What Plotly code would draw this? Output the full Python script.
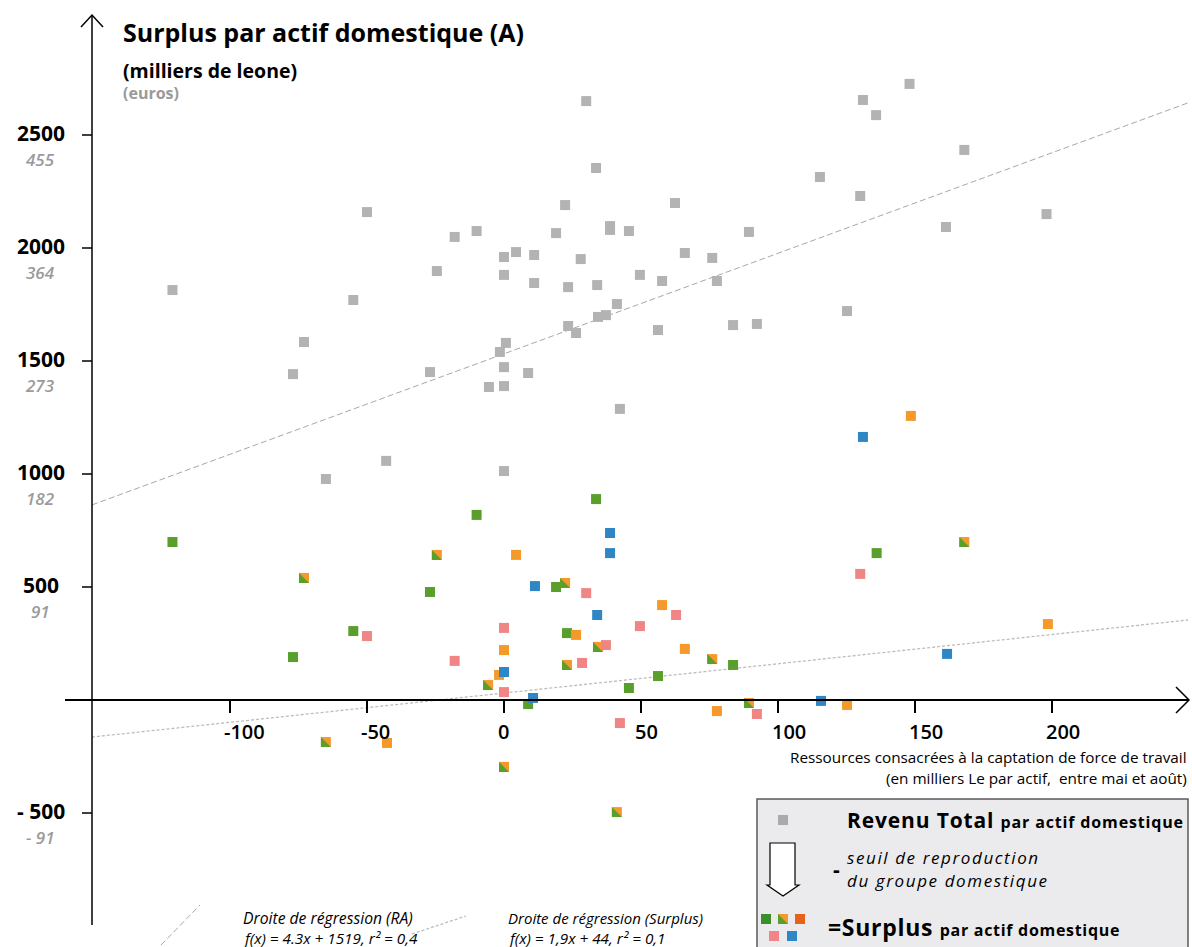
import plotly.graph_objects as go

W, H = 1192, 947
FONT = "Open Sans"

# ---------------- data ----------------
# Revenu Total par actif domestique (milliers de leone) vs ressources (milliers Le)
grey_x = [-121, -73, -77, -55, -50, -65, -43, -27, -24.5, -18, -10, -5.5, 0, 0, -1.5, 0.7,
          0, 0, 0, 4.4, 11, 11, 8.8, 19, 22.3, 23.4, 23.4, 26.3, 28, 30, 33.6, 34, 34.3,
          37.2, 38.7, 38.7, 41.2, 42.3, 45.6, 49.6, 56.2, 57.7, 62.4, 66, 76, 77.7, 83.6,
          89.4, 92.3, 115.3, 125.2, 130, 131, 135.8, 148, 161.3, 168, 198]
grey_y = [1814, 1584, 1442, 1770, 2159, 978, 1058, 1451, 1898, 2049, 2075, 1385, 1960, 1881,
          1540, 1580, 1473, 1389, 1013, 1982, 1969, 1845, 1447, 2066, 2190, 1827, 1655, 1624,
          1951, 2650, 2354, 1836, 1695, 1703, 2097, 2080, 1752, 1288, 2075, 1881, 1637, 1854,
          2199, 1978, 1956, 1854, 1659, 2071, 1664, 2314, 1721, 2230, 2655, 2588, 2726, 2093,
          2434, 2150]

# Surplus par actif domestique, by colour group
green_x = [-121, -77, -55, -27, -10, 8.8, 19, 23, 33.6, 45.6, 56.2, 83.6, 136]
green_y = [699, 190, 305, 478, 819, -18, 500, 296, 889, 53, 106, 155, 650]
orange_x = [-42.7, -1.8, 0, 4.4, 26.3, 57.7, 66, 77.7, 125.2, 148.5, 198.5]
orange_y = [-190, 111, 221, 642, 288, 420, 226, -49, -22, 1257, 336]
split_x = [-73, -65, -24.5, -5.8, 0, 22.3, 23, 34.3, 41.2, 76, 89.4, 168]
split_y = [540, -186, 642, 66, -296, 518, 155, 235, -496, 181, -13, 699]
pink_x = [-50, -18, 0, 0, 30, 28.5, 37.2, 42.3, 49.6, 62.8, 92.3, 130]
pink_y = [283, 173, 319, 35, 473, 164, 243, -102, 327, 376, -62, 558]
blue_x = [0, 11.3, 10.6, 38.7, 38.7, 34, 115.7, 131, 161.7]
blue_y = [124, 504, 9, 739, 650, 376, -4, 1164, 204]

# regression lines as drawn (end points)
reg_ra_x = [-150.4, 249.6]
reg_ra_y = [863, 2642]
reg_sp_x = [-150.4, 249.6]
reg_sp_y = [-164, 354]

x_ticks = [-100, -50, 0, 50, 100, 150, 200]
x_tick_text = ["-100", "-50", "0", "50", "100", "150", "200"]
y_ticks = [2500, 2000, 1500, 1000, 500, -500]
y_tick_text = ["2500", "2000", "1500", "1000", "500", "- 500"]
y_tick_euro = ["455", "364", "273", "182", "91", "- 91"]

# ---------------- styling / layout constants ----------------
GREY = "#b3b3b3"
GREEN = "#5a9f2c"
ORANGE = "#f59a2a"
REDOR = "#e9621a"
PINK = "#ef8585"
BLUE = "#2e86c4"
MS = 10

X0PX, XSCALE = 504.0, 2.74   # pixel of x=0, pixels per unit
Y0PX, YSCALE = 700.0, 0.226  # pixel of y=0, pixels per unit


def fx(p):
    return p / W


def fy(p):
    return 1 - p / H


xr = [(0 - X0PX) / XSCALE, (W - X0PX) / XSCALE]
yr = [(Y0PX - H) / YSCALE, (Y0PX - 0) / YSCALE]

fig = go.Figure()

# regression lines
fig.add_trace(go.Scatter(x=reg_ra_x, y=reg_ra_y, mode="lines",
                         line=dict(color="#a8a8a8", width=1, dash="6px,3px"), hoverinfo="skip"))
fig.add_trace(go.Scatter(x=reg_sp_x, y=reg_sp_y, mode="lines",
                         line=dict(color="#bdbdbd", width=1.3, dash="3px,2px"), hoverinfo="skip"))


def sq(x, y, color, name):
    return go.Scatter(x=x, y=y, mode="markers", name=name,
                      marker=dict(symbol="square", size=MS, color=color,
                                  line=dict(width=0)))


fig.add_trace(sq(grey_x, grey_y, GREY, "Revenu Total"))
fig.add_trace(sq(green_x, green_y, GREEN, "vert"))
fig.add_trace(sq(orange_x, orange_y, ORANGE, "orange"))
fig.add_trace(sq(split_x, split_y, ORANGE, "mixte"))

# green lower-left half of the split markers
dx = (MS / 2) / XSCALE
dy = (MS / 2) / YSCALE
tri_x, tri_y = [], []
for x, y in zip(split_x, split_y):
    tri_x += [x - dx, x - dx, x + dx, x - dx, None]
    tri_y += [y - dy, y + dy, y - dy, y - dy, None]
fig.add_trace(go.Scatter(x=tri_x, y=tri_y, mode="lines", fill="toself",
                         fillcolor=GREEN, line=dict(width=0, color=GREEN),
                         hoverinfo="skip"))
fig.add_trace(sq(pink_x, pink_y, PINK, "rose"))
fig.add_trace(sq(blue_x, blue_y, BLUE, "bleu"))

shapes = []
# x axis
shapes.append(dict(type="line", xref="paper", yref="y", x0=fx(65), x1=fx(1188), y0=0, y1=0,
                   line=dict(color="black", width=2)))
shapes.append(dict(type="path", xref="paper", yref="paper",
                   path=f"M{fx(1176)},{fy(687)} L{fx(1189)},{fy(700)} L{fx(1176)},{fy(713)}",
                   line=dict(color="black", width=1.5)))
# y axis
shapes.append(dict(type="line", xref="paper", yref="paper", x0=fx(92), x1=fx(92), y0=fy(15), y1=fy(925),
                   line=dict(color="black", width=1.5)))
shapes.append(dict(type="path", xref="paper", yref="paper",
                   path=f"M{fx(81)},{fy(27)} L{fx(92)},{fy(15)} L{fx(103)},{fy(27)}",
                   line=dict(color="black", width=1.5)))
for v in x_ticks:
    shapes.append(dict(type="line", xref="x", yref="paper", x0=v, x1=v, y0=fy(700), y1=fy(713),
                       line=dict(color="black", width=2)))
for v in y_ticks:
    shapes.append(dict(type="line", xref="paper", yref="y", x0=fx(82), x1=fx(92), y0=v, y1=v,
                       line=dict(color="black", width=1.5)))

# legend box
shapes.append(dict(type="rect", xref="paper", yref="paper", x0=fx(757), x1=fx(1188), y0=fy(799), y1=fy(950),
                   fillcolor="#ebebed", line=dict(color="#5a5a5a", width=1.5)))
shapes.append(dict(type="rect", xref="paper", yref="paper", x0=fx(778), x1=fx(788), y0=fy(815), y1=fy(825),
                   fillcolor="#aaaaaa", line=dict(width=0)))
shapes.append(dict(type="path", xref="paper", yref="paper",
                   path=(f"M{fx(770)},{fy(843)} L{fx(795)},{fy(843)} L{fx(795)},{fy(885)} L{fx(799)},{fy(885)} "
                         f"L{fx(783)},{fy(896)} L{fx(767)},{fy(885)} L{fx(770)},{fy(885)} Z"),
                   fillcolor="white", line=dict(color="black", width=1.2)))
for (cx, cy, col) in [(766, 919, "#3a8f2a"), (800, 919, REDOR), (774, 936, PINK), (792, 936, BLUE)]:
    shapes.append(dict(type="rect", xref="paper", yref="paper", x0=fx(cx - 5), x1=fx(cx + 5),
                       y0=fy(cy + 5), y1=fy(cy - 5), fillcolor=col, line=dict(width=0)))
shapes.append(dict(type="rect", xref="paper", yref="paper", x0=fx(778), x1=fx(788),
                   y0=fy(924), y1=fy(914), fillcolor=ORANGE, line=dict(width=0)))
shapes.append(dict(type="path", xref="paper", yref="paper",
                   path=f"M{fx(778)},{fy(914)} L{fx(778)},{fy(924)} L{fx(788)},{fy(924)} Z",
                   fillcolor="#5a9f2c", line=dict(width=0)))
# regression samples at bottom
shapes.append(dict(type="line", xref="paper", yref="paper", x0=fx(161), y0=fy(945), x1=fx(200), y1=fy(905),
                   line=dict(color="#a8a8a8", width=1, dash="6px,3px")))
shapes.append(dict(type="line", xref="paper", yref="paper", x0=fx(412), y0=fy(934), x1=fx(466), y1=fy(916),
                   line=dict(color="#bdbdbd", width=1.3, dash="3px,2px")))

ann = []


def txt(text, x, y, size, color="black", weight=400, style="normal", xanchor="left", yanchor="middle"):
    ann.append(dict(text=text, x=fx(x), y=fy(y), xref="paper", yref="paper", showarrow=False,
                    xanchor=xanchor, yanchor=yanchor,
                    font=dict(family=FONT, size=size, color=color, weight=weight, style=style)))


txt("Surplus par actif domestique (A)", 121, 32, 25, weight=700)
txt("(milliers de leone)", 121, 70, 19.5, weight=700)
txt("(euros)", 121, 93, 16, color="#9a9a9a", weight=700)

for v, t, e in zip(y_ticks, y_tick_text, y_tick_euro):
    ann.append(dict(text=t, x=fx(41), y=v, xref="paper", yref="y", showarrow=False, xanchor="center",
                    yanchor="middle", yshift=2,
                    font=dict(family=FONT, size=21, color="black", weight=700)))
    ann.append(dict(text=e, x=fx(40), y=v, xref="paper", yref="y", showarrow=False, xanchor="center",
                    yanchor="middle", yshift=-24,
                    font=dict(family=FONT, size=17, color="#9a9a9a", weight=600, style="italic")))
for v, t in zip(x_ticks, x_tick_text):
    ann.append(dict(text=t, x=v, y=fy(731), xref="x", yref="paper", showarrow=False, xanchor="left",
                    yanchor="middle", xshift=-8,
                    font=dict(family=FONT, size=20, color="black", weight=600)))

txt("Ressources consacrées à la captation de force de travail", 1189, 757, 15.3, xanchor="right")
txt("(en milliers Le par actif,  entre mai et août)", 1189, 778, 15.3, xanchor="right")

txt("Droite de régression (RA)", 241, 918, 15.7, style="italic")
txt("f(x) = 4.3x + 1519, r² = 0,4", 241, 938, 15.3, style="italic")
txt("Droite de régression (Surplus)", 506, 918, 15, style="italic")
txt("f(x) = 1,9x + 44, r² = 0,1", 506, 938, 15.3, style="italic")

LS = "letter-spacing:0.85px"
txt(f"<span style='font-size:21px;{LS}'>Revenu Total </span><span style='{LS}'>par actif domestique</span>",
    845, 820, 16, weight=700)
txt("-", 831, 869, 21, weight=700)
txt("<span style='letter-spacing:1.6px'>seuil de reproduction</span>", 845, 857, 17, style="italic")
txt("<span style='letter-spacing:1.6px'>du groupe domestique</span>", 845, 880, 17, style="italic")
LS2 = "letter-spacing:0.7px"
txt(f"<span style='font-size:23px;{LS2}'>=Surplus </span><span style='{LS2}'>par actif domestique</span>",
    826, 927, 16, weight=700)

fig.update_layout(
    width=W, height=H, margin=dict(l=0, r=0, t=0, b=0),
    paper_bgcolor="white", plot_bgcolor="white", showlegend=False,
    xaxis=dict(range=xr, visible=False, domain=[0, 1]),
    yaxis=dict(range=yr, visible=False, domain=[0, 1]),
    shapes=shapes, annotations=ann,
)

fig.write_html("out.html", config={"displayModeBar": False},
               post_script="document.body.style.margin='0';")
